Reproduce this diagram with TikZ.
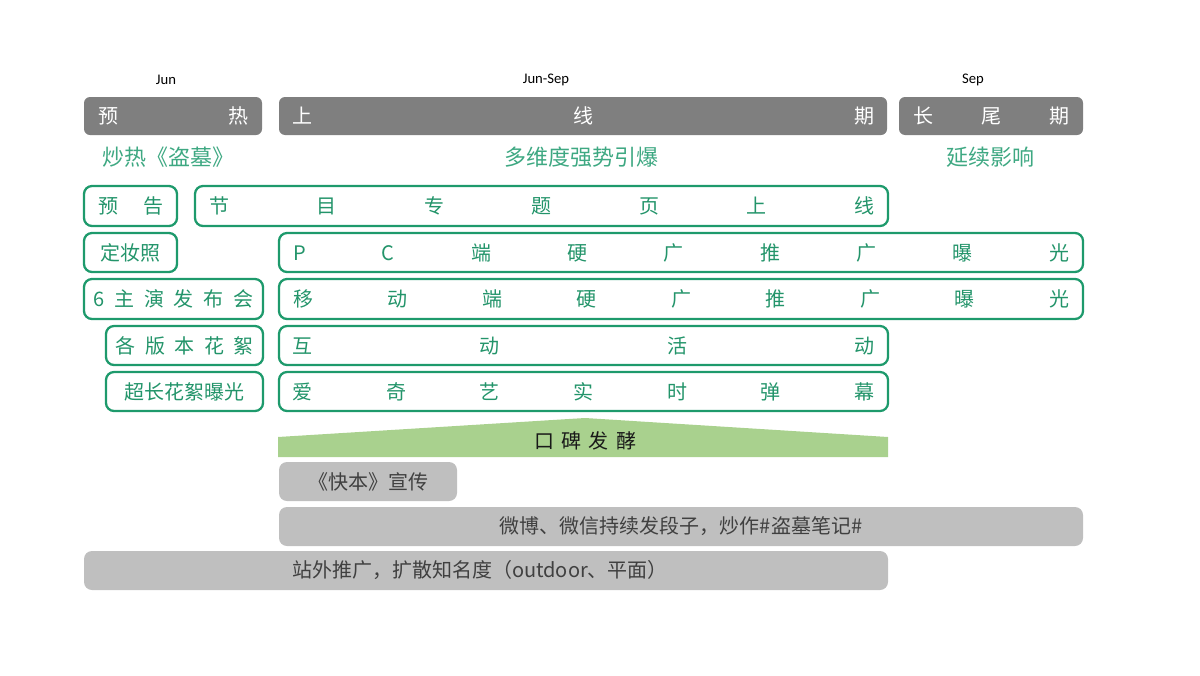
\documentclass[tikz,border=0pt]{standalone}
\usepackage{fontspec}
\setmainfont{Noto Sans CJK SC}
\newfontfamily\latinfam{Carlito}
\definecolor{hdrgray}{HTML}{7F7F7F}
\definecolor{lgray}{HTML}{BFBFBF}
\definecolor{dgray}{HTML}{404040}
\definecolor{grn}{HTML}{1E9A6C}
\definecolor{grntext}{HTML}{23946A}
\definecolor{subgrn}{HTML}{3EA882}
\definecolor{trapgrn}{HTML}{A9D18E}
\newcommand\mybodyfont{\fontsize{15}{18}\selectfont}
\newcommand\mysubfont{\fontsize{16.5}{20}\selectfont}
\newcommand\mymonfont{\latinfam\fontsize{11}{13}\selectfont}
\newcommand\pbox[7]{%
  \pgfmathsetlengthmacro\bw{(#5-#3)*0.75pt}%
  \pgfmathsetlengthmacro\bh{(#6-#4)*0.75pt}%
  \node[#2, minimum width=\bw, minimum height=\bh] (#1) at ({(#3+#5)/2},{(#4+#6)/2}) {#7};%
}
\newcommand\spread[2]{\pgfmathsetlengthmacro\sw{#1*0.75pt}\makebox[\sw][s]{#2}}
\tikzset{
  hdr/.style={fill=hdrgray, rounded corners=4.5pt, inner sep=0pt, text=white, font=\mybodyfont},
  gbox/.style={draw=grn, line width=1.7pt, rounded corners=6pt, inner sep=0pt, text=grntext, font=\mybodyfont},
  lbox/.style={fill=lgray, rounded corners=6pt, inner sep=0pt, text=dgray, font=\mybodyfont},
  sub/.style={text=subgrn, font=\mysubfont, inner sep=0pt},
  mon/.style={font=\mymonfont, text=black, inner sep=0pt},
  trap/.style={fill=trapgrn},
  traptext/.style={font=\mybodyfont, text=black!90, inner sep=0pt}
}
\begin{document}
\begin{tikzpicture}[x=0.75pt,y=-0.75pt]
\useasboundingbox (0,0) rectangle (1200,675);
% month labels
\node[mon] (m1) at (166,80) {Jun};
\node[mon] (m2) at (546,80) {Jun-Sep};
\node[mon] (m3) at (973,80) {Sep};
% headers
\pbox{h1}{hdr}{84}{97}{262}{135}{\spread{150}{预\hfill 热}}
\pbox{h2}{hdr}{279}{97}{887}{135}{\spread{582}{上\hfill 线\hfill 期}}
\pbox{h3}{hdr}{899}{97}{1083}{135}{\spread{156}{长\hfill 尾\hfill 期}}
% subtitles
\node[sub] (s1) at (168,157) {炒热《盗墓》};
\node[sub] (s2) at (581,157) {多维度强势引爆};
\node[sub] (s3) at (990,157) {延续影响};
% row 1
\pbox{a1}{gbox}{84}{186}{177}{226}{\spread{65}{预\hfill 告}}
\pbox{b1}{gbox}{195}{186}{888}{226}{\spread{665}{节\hfill 目\hfill 专\hfill 题\hfill 页\hfill 上\hfill 线}}
% row 2
\pbox{a2}{gbox}{84}{233}{177}{272}{定妆照}
\pbox{b2}{gbox}{279}{233}{1083}{272}{\spread{776}{P\hfill C\hfill 端\hfill 硬\hfill 广\hfill 推\hfill 广\hfill 曝\hfill 光}}
% row 3
\pbox{a3}{gbox}{84}{279}{263}{319}{\spread{160}{6\hfill 主\hfill 演\hfill 发\hfill 布\hfill 会}}
\pbox{b3}{gbox}{279}{279}{1083}{319}{\spread{776}{移\hfill 动\hfill 端\hfill 硬\hfill 广\hfill 推\hfill 广\hfill 曝\hfill 光}}
% row 4
\pbox{a4}{gbox}{106}{326}{263}{365}{\spread{138}{各\hfill 版\hfill 本\hfill 花\hfill 絮}}
\pbox{b4}{gbox}{279}{326}{888}{365}{\spread{582}{互\hfill 动\hfill 活\hfill 动}}
% row 5
\pbox{a5}{gbox}{106}{372}{263}{411}{超长花絮曝光}
\pbox{b5}{gbox}{279}{372}{888}{411}{\spread{582}{爱\hfill 奇\hfill 艺\hfill 实\hfill 时\hfill 弹\hfill 幕}}
% word of mouth trapezoid
\fill[trap] (278,457) -- (278,437) -- (585,418) -- (888,437) -- (888,457) -- cycle;
\node[traptext] (wom) at (585,441) {\spread{102}{口\hfill 碑\hfill 发\hfill 酵}};
% gray bars
\pbox{g1}{lbox}{279}{462}{457}{501}{《快本》宣传}
\pbox{g2}{lbox}{279}{507}{1083}{546}{微博、微信持续发段子，炒作\#盗墓笔记\#}
\pbox{g3}{lbox}{84}{551}{888}{590}{\hspace{-9pt}站外推广，扩散知名度（outdoor、平面）}
\end{tikzpicture}
\end{document}
